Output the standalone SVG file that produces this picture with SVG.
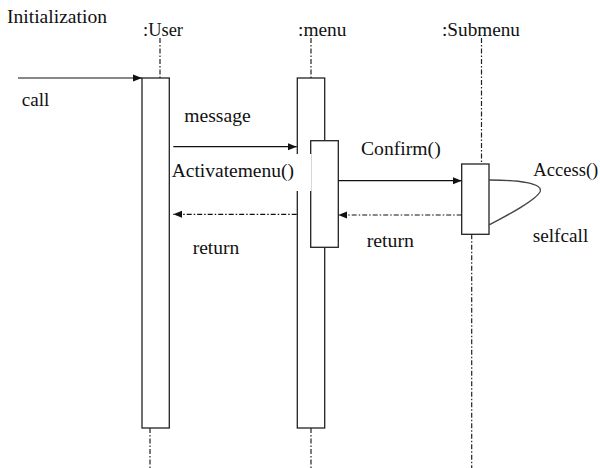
<svg xmlns="http://www.w3.org/2000/svg" width="600" height="468" viewBox="0 0 600 468">
<defs>
<marker id="ah" viewBox="0 0 10 10" refX="10" refY="5" markerWidth="9" markerHeight="9" markerUnits="userSpaceOnUse" orient="auto">
<path d="M0,1 L10,5 L0,9 z" fill="#111"/>
</marker>
</defs>
<style>
text{font-family:"Liberation Serif","Times New Roman",serif;font-size:18px;fill:#111}
.life{stroke:#222;stroke-width:1.2;stroke-dasharray:5 2 1.5 2;fill:none}
.box{fill:#fff;stroke:#222;stroke-width:1.3}
.msg{stroke:#111;stroke-width:1.2;fill:none}
.ret{stroke:#111;stroke-width:1.2;fill:none;stroke-dasharray:5 2 1.5 2}
.self{stroke:#444;stroke-width:1.3;fill:none}
</style>
<rect width="600" height="468" fill="#fff"/>
<text x="7" y="23" textLength="100" lengthAdjust="spacingAndGlyphs">Initialization</text>
<g id="user">
<text x="143" y="36" textLength="40" lengthAdjust="spacingAndGlyphs">:User</text>
<line class="life" x1="160" y1="38" x2="160" y2="78"/>
<rect class="box" x="142" y="78" width="27.3" height="350"/>
<line class="life" x1="150" y1="428" x2="150" y2="468"/>
</g>
<g id="menu">
<text x="298" y="36" textLength="48.5" lengthAdjust="spacingAndGlyphs">:menu</text>
<line class="life" x1="311" y1="38" x2="311" y2="78"/>
<rect class="box" x="297.3" y="78" width="27.4" height="350"/>
<rect class="box" x="310.7" y="140.7" width="27.6" height="106.6"/>
<line class="life" x1="311" y1="428" x2="311" y2="468"/>
</g>
<g id="submenu">
<text x="442" y="36" textLength="78" lengthAdjust="spacingAndGlyphs">:Submenu</text>
<line class="life" x1="481.5" y1="38" x2="481.5" y2="164"/>
<rect class="box" x="461.7" y="164" width="27.3" height="70.3"/>
<line class="life" x1="471.7" y1="234.3" x2="471.7" y2="468"/>
</g>
<g id="connectors">
<line class="msg" x1="18" y1="78" x2="142" y2="78" marker-end="url(#ah)"/>
<line class="msg" x1="173.3" y1="146.7" x2="296.7" y2="146.7" marker-end="url(#ah)"/>
<line class="ret" x1="296.7" y1="214.3" x2="173.3" y2="214.3" marker-end="url(#ah)"/>
<line class="msg" x1="338.3" y1="180.7" x2="461.7" y2="180.7" marker-end="url(#ah)"/>
<line class="ret" x1="461.7" y1="215" x2="338.3" y2="215" marker-end="url(#ah)"/>
<path class="self" d="M489,180 C518,180 544,183 540,192 C535,201 506,216 489,225"/>
</g>
<rect x="170.5" y="154" width="141" height="37" fill="#fff"/>
<text x="21.7" y="106" textLength="27.6" lengthAdjust="spacingAndGlyphs">call</text>
<text x="184.3" y="121.7" textLength="66.4" lengthAdjust="spacingAndGlyphs">message</text>
<text x="171.7" y="176.7" textLength="122.3" lengthAdjust="spacingAndGlyphs">Activatemenu()</text>
<text x="192.7" y="254" textLength="46.6" lengthAdjust="spacingAndGlyphs">return</text>
<text x="361" y="155" textLength="79.7" lengthAdjust="spacingAndGlyphs">Confirm()</text>
<text x="533.3" y="175.7" textLength="65" lengthAdjust="spacingAndGlyphs">Access()</text>
<text x="366.7" y="246.7" textLength="47.3" lengthAdjust="spacingAndGlyphs">return</text>
<text x="532.7" y="241.7" textLength="55.6" lengthAdjust="spacingAndGlyphs">selfcall</text>
</svg>
